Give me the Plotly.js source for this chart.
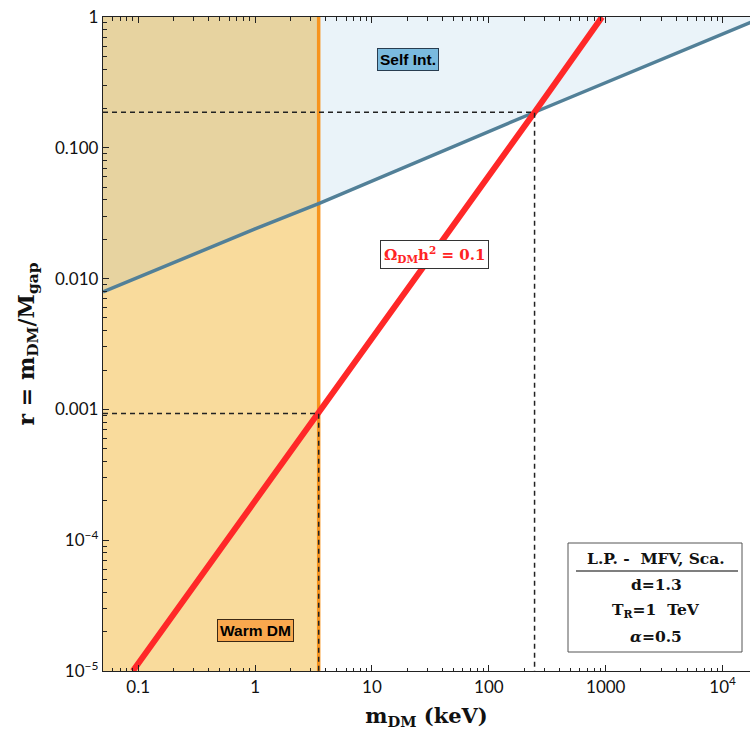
<!DOCTYPE html>
<html>
<head>
<meta charset="utf-8">
<script src="https://cdn.plot.ly/plotly-3.0.1.min.js"></script>
<style>html,body{margin:0;padding:0;background:#fff;}#chart{width:750px;height:738px;}</style>
</head>
<body>
<div id="chart"></div>
<script>
// ---- data ----
const selfIntX = [0.05, 1, 3.5, 246, 20000];          // keV
const selfIntY = [0.0079, 0.024, 0.0375, 0.187, 0.96];
const relicX = [0.09, 3.5, 246, 930];
const relicY = [1e-5, 0.00093, 0.187, 1.0];
const warmLimit = 3.5;                                 // keV
const crossWarm = {x: 3.5, y: 0.00093};
const crossSelf = {x: 246, y: 0.187};
const xTickVals = [0.1, 1, 10, 100, 1000, 10000];
const xTickText = ['0.1', '1', '10', '100', '1000', '10<sup>4</sup>'];
const yTickVals = [1e-5, 1e-4, 1e-3, 1e-2, 1e-1, 1];
const yTickText = ['10<sup>\u22125</sup>', '10<sup>\u22124</sup>', '0.001', '0.010', '0.100', '1'];
const infoLines = ['L.P. -  MFV, Sca.', 'd=1.3', 'T<sub>R</sub>=1  TeV', '<i>\u03b1</i>=0.5'];

const xMin = 0.05, xMaxLog = 4.234, yMin = 1e-5, yMax = 1;

// minor tick positions
function minors(d0, d1) {
  const out = [];
  for (let d = d0; d <= d1; d++) for (let m = 2; m <= 9; m++) out.push(m * Math.pow(10, d));
  return out;
}

// polygons built from the series
const leftIdx = selfIntX.map((v, i) => i).filter(i => selfIntX[i] <= warmLimit);
const rightIdx = selfIntX.map((v, i) => i).filter(i => selfIntX[i] >= warmLimit);
const xl = leftIdx.map(i => selfIntX[i]), yl = leftIdx.map(i => selfIntY[i]);
const xr = rightIdx.map(i => selfIntX[i]), yr = rightIdx.map(i => selfIntY[i]);
const xEnd = selfIntX[selfIntX.length - 1];

const traces = [
  { x: xl.concat([warmLimit, xMin]), y: yl.concat([yMin, yMin]),
    fill: 'toself', fillcolor: 'rgb(249,219,156)', line: {width: 0}, mode: 'lines', hoverinfo: 'skip' },
  { x: xl.concat([warmLimit, xMin]), y: yl.concat([yMax, yMax]),
    fill: 'toself', fillcolor: 'rgb(231,211,160)', line: {width: 0}, mode: 'lines', hoverinfo: 'skip' },
  { x: xr.concat([xEnd, warmLimit]), y: yr.concat([yMax, yMax]),
    fill: 'toself', fillcolor: 'rgb(234,243,249)', line: {width: 0}, mode: 'lines', hoverinfo: 'skip' },
  { x: [warmLimit, warmLimit], y: [yMin, yMax], mode: 'lines',
    line: {color: 'rgb(247,148,30)', width: 3.5}, hoverinfo: 'skip' },
  { x: selfIntX, y: selfIntY, mode: 'lines',
    line: {color: 'rgb(82,128,152)', width: 3.5}, hoverinfo: 'skip' },
  { x: relicX, y: relicY, mode: 'lines',
    line: {color: 'rgb(255,40,40)', width: 6}, hoverinfo: 'skip' },
  { x: [xMin, crossWarm.x, crossWarm.x], y: [crossWarm.y, crossWarm.y, yMin], mode: 'lines',
    line: {color: '#222', width: 1.5, dash: '5px,4px'}, hoverinfo: 'skip' },
  { x: [xMin, crossSelf.x, crossSelf.x], y: [crossSelf.y, crossSelf.y, yMin], mode: 'lines',
    line: {color: '#222', width: 1.5, dash: '5px,4px'}, hoverinfo: 'skip' },
  { x: [], y: [], xaxis: 'x2', yaxis: 'y2', mode: 'markers', hoverinfo: 'skip' }
];

const tickFont = {family: 'Lato, sans-serif', size: 17, color: '#111'};
const boxFont = {family: 'DejaVu Serif, serif', size: 15.5, color: '#111', weight: 'bold'};
const labelFont = {family: 'Liberation Sans, Arial, sans-serif', size: 15.5, color: '#000', weight: 'bold'};

// pixel -> paper helpers (plot area: x 103..750, y 17..671)
const px = v => (v - 103) / 647;
const py = v => (671 - v) / 654;

const infoAnn = infoLines.map((t, i) => ({
  x: px(656), y: py(558 + 26 * i), xref: 'paper', yref: 'paper', xanchor: 'center', yanchor: 'middle',
  text: t, showarrow: false, font: boxFont
}));

const layout = {
  width: 750, height: 738,
  margin: {l: 103, r: 0, t: 17, b: 67},
  paper_bgcolor: '#fff', plot_bgcolor: '#fff',
  showlegend: false,
  xaxis: {
    type: 'log', range: [Math.log10(xMin), xMaxLog],
    tickvals: xTickVals, ticktext: xTickText, tickfont: tickFont,
    ticks: 'inside', ticklen: 6, tickwidth: 1, tickcolor: '#222',
    showline: true, linecolor: '#222', linewidth: 1.2, mirror: 'ticks',
    showgrid: false, zeroline: false,
    title: {text: 'm<sub>DM</sub> (keV)', font: {family: 'DejaVu Serif, serif', size: 21, color: '#111', weight: 'bold'}, standoff: 12}
  },
  yaxis: {
    type: 'log', range: [-5, 0],
    tickvals: yTickVals, ticktext: yTickText, tickfont: tickFont,
    ticks: 'inside', ticklen: 6, tickwidth: 1, tickcolor: '#222',
    showline: true, linecolor: '#222', linewidth: 1.2, mirror: false,
    showgrid: false, zeroline: false,
    title: {text: 'r = m<sub>DM</sub>/M<sub>gap</sub>', font: {family: 'DejaVu Serif, serif', size: 22, color: '#111', weight: 'bold'}, standoff: 14}
  },
  xaxis2: {
    type: 'log', range: [Math.log10(xMin), xMaxLog], overlaying: 'x', anchor: 'y2', side: 'bottom',
    tickvals: minors(-2, 4), ticks: 'inside', ticklen: 3.5, tickwidth: 1, tickcolor: '#222',
    showticklabels: false, showgrid: false, zeroline: false, showline: false, mirror: 'ticks'
  },
  yaxis2: {
    type: 'log', range: [-5, 0], overlaying: 'y', anchor: 'x2', side: 'left',
    tickvals: minors(-5, -1), ticks: 'inside', ticklen: 3.5, tickwidth: 1, tickcolor: '#222',
    showticklabels: false, showgrid: false, zeroline: false, showline: false
  },
  shapes: [
    {type: 'rect', xref: 'paper', yref: 'paper', x0: px(568), x1: px(742), y0: py(652), y1: py(543),
     line: {color: '#555', width: 1}, fillcolor: '#fff'},
    {type: 'line', xref: 'paper', yref: 'paper', x0: px(576), x1: px(738), y0: py(571), y1: py(571),
     line: {color: '#555', width: 1.5}}
  ],
  annotations: [
    {x: Math.log10(20.2), y: Math.log10(0.477), xref: 'x', yref: 'y', text: 'Self Int.', showarrow: false,
     font: labelFont, bgcolor: 'rgb(122,186,222)', bordercolor: 'rgb(40,60,80)', borderwidth: 1, borderpad: 2},
    {x: Math.log10(1.0), y: Math.log10(2.05e-5), xref: 'x', yref: 'y', text: 'Warm DM', showarrow: false,
     font: labelFont, bgcolor: 'rgb(249,168,78)', bordercolor: 'rgb(60,40,20)', borderwidth: 1, borderpad: 2},
    {x: Math.log10(34.3), y: Math.log10(0.0154), xref: 'x', yref: 'y', text: '\u03a9<sub>DM</sub>h<sup>2</sup> = 0.1', showarrow: false,
     font: {family: 'DejaVu Serif, serif', size: 15, color: 'rgb(255,35,35)', weight: 'bold'},
     bgcolor: '#fff', bordercolor: '#333', borderwidth: 1, borderpad: 3}
  ].concat(infoAnn)
};

Plotly.newPlot('chart', traces, layout, {displayModeBar: false, staticPlot: true});
</script>
</body>
</html>
